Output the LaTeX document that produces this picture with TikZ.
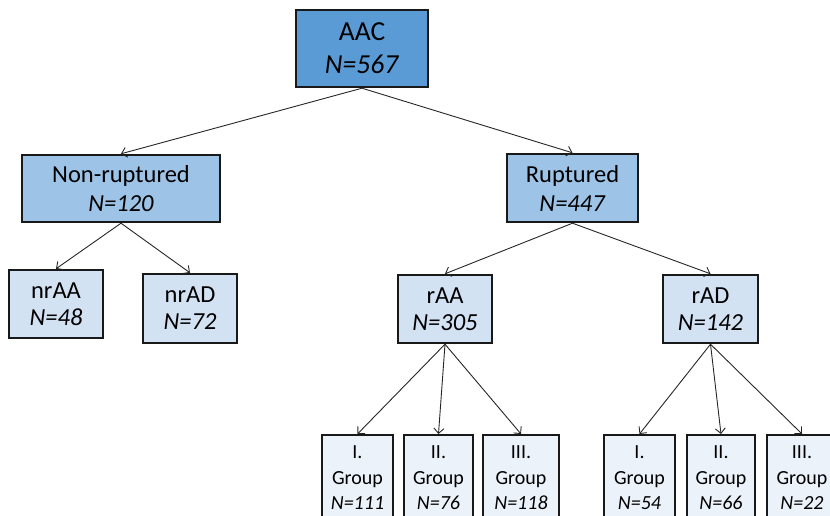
\documentclass[tikz,border=0pt]{standalone}
\usepackage{fontspec}
\setmainfont{Carlito}
\usetikzlibrary{arrows.meta}
\definecolor{cone}{RGB}{91,155,213}
\definecolor{ctwo}{RGB}{157,195,230}
\definecolor{cthree}{RGB}{211,226,243}
\definecolor{cfour}{RGB}{236,242,250}
\begin{document}
\begin{tikzpicture}[x=1pt,y=-1pt,
  box/.style={draw=black!90, line width=2.4pt, rectangle, inner sep=0pt, align=center},
  topbox/.style={box, fill=cone, font=\fontsize{27.5}{33}\selectfont},
  midbox/.style={box, fill=ctwo, font=\fontsize{24.5}{29}\selectfont},
  lowbox/.style={box, fill=cthree, font=\fontsize{24.5}{27}\selectfont},
  grpbox/.style={box, fill=cfour, font=\fontsize{20}{25.5}\selectfont, anchor=north, inner ysep=10.5pt},
  arr/.style={-{Straight Barb[length=5pt,width=10pt]}, line width=0.9pt, black!85}]
\useasboundingbox (0,0) rectangle (830,516);
\clip (0,0) rectangle (830,516);
\node[topbox, minimum width=132pt, minimum height=77pt] (aac) at (362,48.5) {AAC\\\textit{N=567}};
\node[midbox, minimum width=198pt, minimum height=67pt] (nr) at (121,188.5) {Non-ruptured\\\textit{N=120}};
\node[midbox, minimum width=131pt, minimum height=68pt] (r) at (572.5,188) {Ruptured\\\textit{N=447}};
\node[lowbox, minimum width=94pt, minimum height=68pt] (nraa) at (56,304) {nrAA\\\textit{N=48}};
\node[lowbox, minimum width=94pt, minimum height=69pt] (nrad) at (190,308.5) {nrAD\\\textit{N=72}};
\node[lowbox, minimum width=94pt, minimum height=68pt] (raa) at (445,309) {rAA\\\textit{N=305}};
\node[lowbox, minimum width=95pt, minimum height=68pt] (rad) at (710.5,309) {rAD\\\textit{N=142}};
\node[grpbox, minimum width=71pt] (ga1) at (357.5,434) {I.\\Group\\\textit{N=111}};
\node[grpbox, minimum width=69pt] (ga2) at (438.5,434) {II.\\Group\\\textit{N=76}};
\node[grpbox, minimum width=76pt] (ga3) at (521,434) {III.\\Group\\\textit{N=118}};
\node[grpbox, minimum width=71pt] (gd1) at (639.5,434) {I.\\Group\\\textit{N=54}};
\node[grpbox, minimum width=68pt] (gd2) at (721,434) {II.\\Group\\\textit{N=66}};
\node[grpbox, minimum width=70pt] (gd3) at (802,434) {III.\\Group\\\textit{N=22}};
\draw[arr] (aac.south) -- (nr.north);
\draw[arr] (aac.south) -- (r.north);
\draw[arr] (nr.south) -- (nraa.north);
\draw[arr] (nr.south) -- (nrad.north);
\draw[arr] (r.south) -- (raa.north);
\draw[arr] (r.south) -- (rad.north);
\draw[arr] (raa.south) -- (ga1.north);
\draw[arr] (raa.south) -- (ga2.north);
\draw[arr] (raa.south) -- (ga3.north);
\draw[arr] (rad.south) -- (gd1.north);
\draw[arr] (rad.south) -- (gd2.north);
\draw[arr] (rad.south) -- (gd3.north);
\end{tikzpicture}
\end{document}
